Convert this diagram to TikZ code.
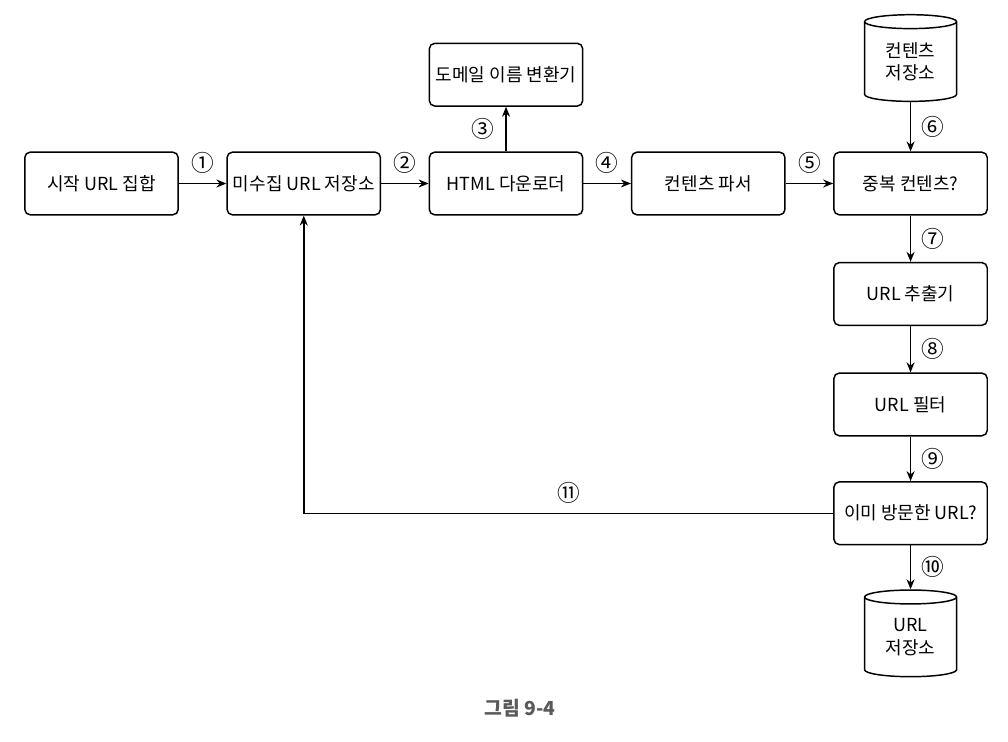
\documentclass[tikz,border=0pt]{standalone}
\usepackage{fontspec}
\setmainfont{Noto Sans CJK KR}
\usetikzlibrary{shapes.geometric, arrows.meta, positioning}

\begin{document}
\begin{tikzpicture}[
    x=0.75pt, y=-0.75pt,
    node distance=34.75pt and 35.6pt,
    box/.style={
        rectangle, draw=black, line width=1.1pt, rounded corners=4pt,
        minimum width=115pt, minimum height=47pt,
        align=center, font=\fontsize{13.5}{16}\selectfont
    },
    store/.style={
        cylinder, shape border rotate=90, draw=black, line width=1.1pt,
        aspect=0.28, minimum width=69pt, minimum height=65pt,
        align=center, inner sep=0pt, font=\fontsize{13.5}{17}\selectfont
    },
    arrow/.style={-{Stealth[length=7.5pt, width=6pt]}, line width=1.1pt},
    numlabel/.style={font=\fontsize{17}{17}\selectfont, inner sep=1pt}
]
\useasboundingbox (0,0) rectangle (1008,742);

% Main row
\node[box] (start) at (101.5,183.5) {시작 URL 집합};
\node[box, right=of start] (frontier) {미수집 URL 저장소};
\node[box, right=of frontier] (downloader) {HTML 다운로더};
\node[box, right=of downloader] (parser) {컨텐츠 파서};
\node[box, right=of parser] (dupe) {중복 컨텐츠?};

% DNS above the downloader
\node[box, above=33.5pt of downloader] (dns) {도메일 이름 변환기};

% Right column
\node[store, above=37pt of dupe] (contentdb) {컨텐츠\\저장소};
\node[box, below=of dupe] (extractor) {URL 추출기};
\node[box, below=of extractor] (urlfilter) {URL 필터};
\node[box, below=33.5pt of urlfilter] (visited) {이미 방문한 URL?};
\node[store, below=33pt of visited] (urldb) {URL\\저장소};

% Main row arrows
\draw[arrow] (start) -- node[numlabel, above=6pt] {①} (frontier);
\draw[arrow] (frontier) -- node[numlabel, above=6pt] {②} (downloader);
\draw[arrow] (downloader) -- node[numlabel, left=7pt] {③} (dns);
\draw[arrow] (downloader) -- node[numlabel, above=6pt] {④} (parser);
\draw[arrow] (parser) -- node[numlabel, above=6pt] {⑤} (dupe);

% Right column arrows
\draw[arrow] (contentdb) -- node[numlabel, right=7pt] {⑥} (dupe);
\draw[arrow] (dupe) -- node[numlabel, right=7pt] {⑦} (extractor);
\draw[arrow] (extractor) -- node[numlabel, right=7pt] {⑧} (urlfilter);
\draw[arrow] (urlfilter) -- node[numlabel, right=7pt] {⑨} (visited);
\draw[arrow] (visited) -- node[numlabel, right=7pt] {⑩} (urldb);

% Feedback loop
\draw[arrow] (visited.west) -| node[numlabel, pos=0.25, above=6pt] {⑪} (frontier.south);

% Caption
\node[font=\fontsize{14.5}{15}\selectfont\bfseries, text=black!65] (caption) at (520,708) {그림 9-4};

\end{tikzpicture}
\end{document}
